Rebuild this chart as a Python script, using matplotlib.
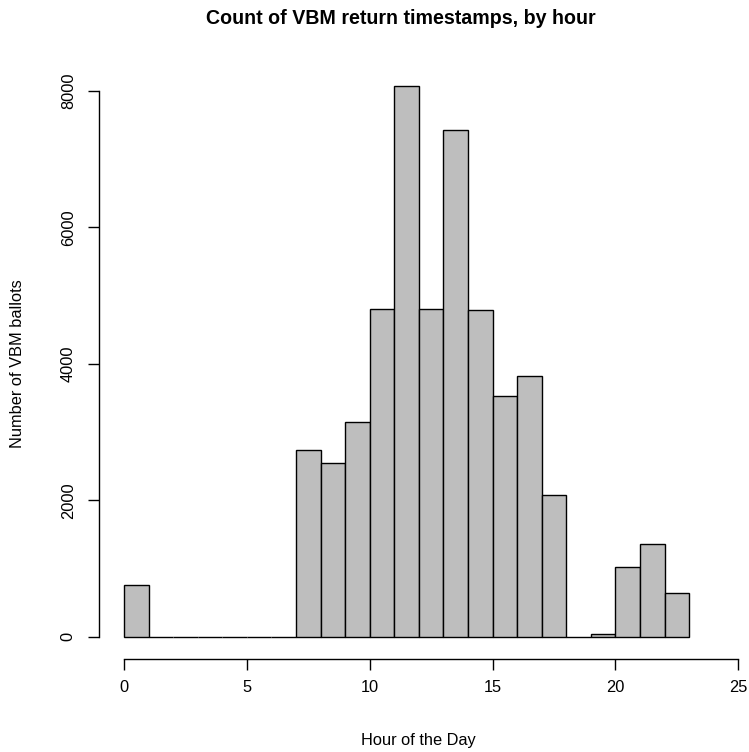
import numpy as np
import matplotlib
matplotlib.use("Agg")
import matplotlib.pyplot as plt

# hourly counts of VBM return timestamps (bins of one hour, 0..23)
hour_edges = np.arange(0, 24)
counts = [762, 0, 0, 0, 0, 0, 0, 2737, 2542, 3152, 4805, 8070,
          4798, 7425, 4785, 3533, 3817, 2077, 0, 35, 1017, 1363, 640]
x_ticks = [0, 5, 10, 15, 20, 25]
y_ticks = [0, 2000, 4000, 6000, 8000]

plt.rcParams['font.family'] = ['Liberation Sans', 'DejaVu Sans']

W, H = 749, 752
fig = plt.figure(figsize=(W / 100, H / 100), dpi=100)

# plot region in pixels (R style: usr range with 4% padding)
left_px, right_px = 99.4, 738.3
bottom_px, top_px = 658.7, 65.6
ax = fig.add_axes([left_px / W, 1 - bottom_px / H,
                   (right_px - left_px) / W, (bottom_px - top_px) / H])

ax.bar(hour_edges[:-1], counts, width=1, align='edge',
       color='#BEBEBE', edgecolor='black', linewidth=1.0)

ax.set_xlim(-1.0, 25.0)
ax.set_ylim(-322, 8372)

for s in ['top', 'right']:
    ax.spines[s].set_visible(False)
ax.spines['left'].set_bounds(0, 8000)
ax.spines['bottom'].set_bounds(0, 25)
for s in ['left', 'bottom']:
    ax.spines[s].set_linewidth(1.0)

fs = 11.75
ax.set_xticks(x_ticks)
ax.set_yticks(y_ticks)
ax.set_yticklabels([str(v) for v in y_ticks], rotation=90, va='center')
ax.tick_params(axis='both', length=8, width=1.0, labelsize=fs, direction='out')
ax.tick_params(axis='x', pad=7)
ax.tick_params(axis='y', pad=9)

fig.text(401 / W, 1 - 18 / H, "Count of VBM return timestamps, by hour",
         ha='center', va='center', fontsize=14.1, fontweight='bold')
fig.text(418 / W, 1 - 740 / H, "Hour of the Day",
         ha='center', va='center', fontsize=fs)
fig.text(18 / W, 1 - 364 / H, "Number of VBM ballots",
         ha='center', va='center', rotation=90, fontsize=fs)

fig.savefig("out.png", dpi=100)
